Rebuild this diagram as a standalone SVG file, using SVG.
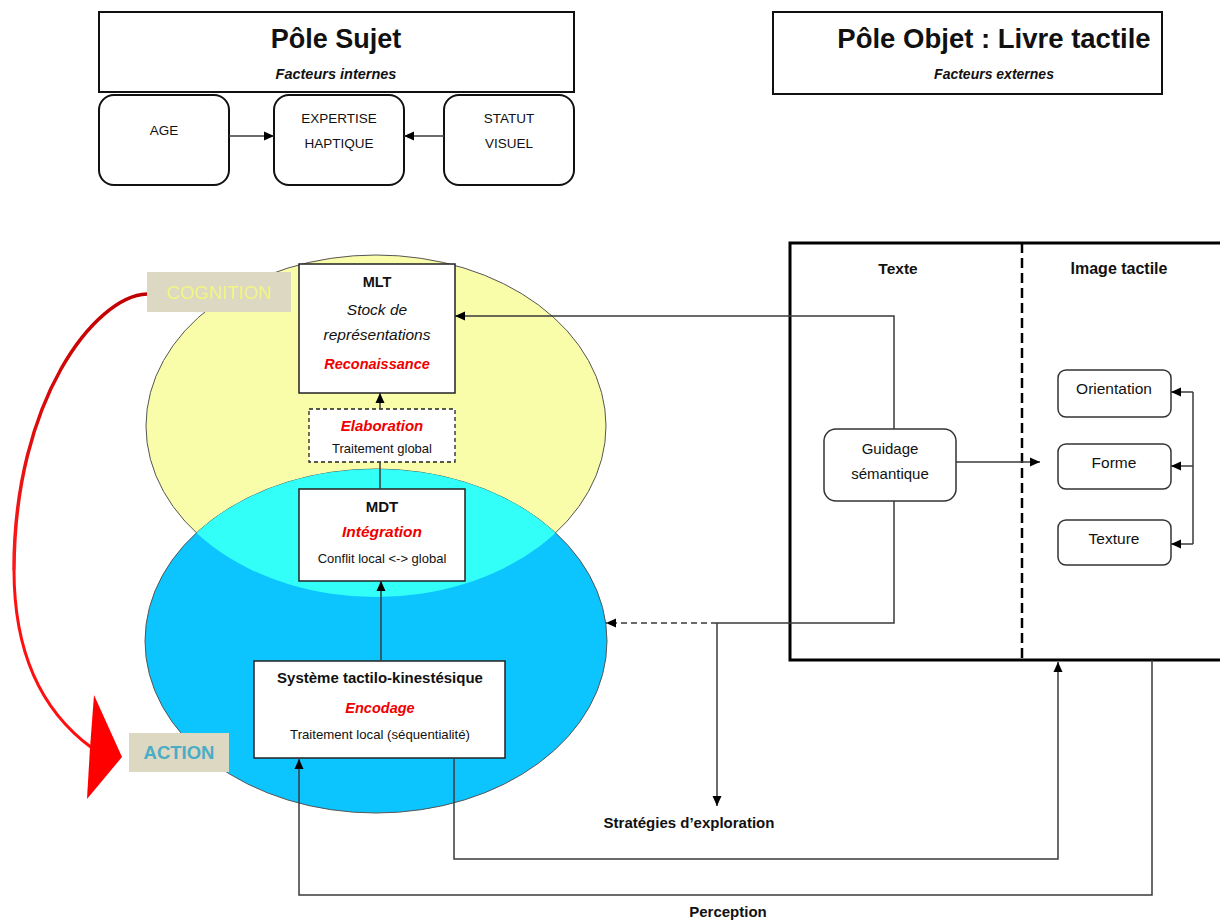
<svg xmlns="http://www.w3.org/2000/svg" width="1220" height="920" viewBox="0 0 1220 920">
<defs>
<style>
text{font-family:"Liberation Sans",Arial,sans-serif;fill:#111;text-anchor:middle}
.b{font-weight:bold}
.i{font-style:italic}
.red{fill:#f00000;font-weight:bold;font-style:italic}
.box{fill:#fff;stroke:#222;stroke-width:1.5}
.hbox{fill:#fff;stroke:#111;stroke-width:2}
.rbox{fill:#fff;stroke:#333;stroke-width:1.5}
.c{fill:none;stroke:#3a3a3a;stroke-width:1.5}
.a{marker-end:url(#ah)}
</style>
<marker id="ah" markerUnits="userSpaceOnUse" markerWidth="10" markerHeight="10" refX="10" refY="5" orient="auto">
<path d="M0,0.5 L10,5 L0,9.5 z" fill="#000"/>
</marker>
<linearGradient id="rg" gradientUnits="userSpaceOnUse" x1="0" y1="294" x2="0" y2="570">
<stop offset="0" stop-color="#c00000"/>
<stop offset="1" stop-color="#ff1a1a"/>
</linearGradient>
<clipPath id="yclip"><ellipse cx="376" cy="426" rx="230" ry="171"/></clipPath>
</defs>

<g id="ellipses">
<ellipse cx="376" cy="426" rx="230" ry="171" fill="#f9fca9" stroke="#555" stroke-width="1"/>
<ellipse cx="376" cy="641" rx="231" ry="172" fill="#0cc5ff" stroke="#555" stroke-width="1"/>
<ellipse cx="376" cy="641" rx="231" ry="172" fill="#31fff8" clip-path="url(#yclip)"/>
</g>

<g id="pole-sujet">
<rect class="hbox" x="99" y="12" width="475" height="80"/>
<text class="b" x="336" y="48" font-size="27">Pôle Sujet</text>
<text class="b i" x="336" y="79" font-size="14.5">Facteurs internes</text>
</g>
<g id="age">
<rect class="hbox" x="99" y="95" width="130" height="90" rx="15"/>
<text x="164" y="135" font-size="13.5">AGE</text>
</g>
<g id="expertise">
<rect class="hbox" x="274" y="95" width="130" height="90" rx="15"/>
<text x="339" y="123" font-size="13.5">EXPERTISE</text>
<text x="339" y="148" font-size="13.5">HAPTIQUE</text>
</g>
<g id="statut">
<rect class="hbox" x="444" y="95" width="130" height="90" rx="15"/>
<text x="509" y="123" font-size="13.5">STATUT</text>
<text x="509" y="148" font-size="13.5">VISUEL</text>
</g>

<g id="pole-objet">
<rect class="hbox" x="773" y="12" width="389" height="82"/>
<text class="b" x="994" y="48" font-size="27.5">Pôle Objet : Livre tactile</text>
<text class="b i" x="994" y="79" font-size="14">Facteurs externes</text>
</g>

<g id="mlt">
<rect class="box" x="299" y="264" width="156" height="129"/>
<text class="b" x="377" y="287" font-size="14.5">MLT</text>
<text class="i" x="377" y="315" font-size="15.5">Stock de</text>
<text class="i" x="377" y="340" font-size="15.5">représentations</text>
<text class="red" x="377" y="369" font-size="14.5">Reconaissance</text>
</g>
<g id="elaboration">
<rect x="309" y="409" width="146" height="53" fill="#fff" stroke="#222" stroke-width="1.3" stroke-dasharray="4,3"/>
<text class="red" x="382" y="431" font-size="15">Elaboration</text>
<text x="382" y="453" font-size="13">Traitement global</text>
</g>
<g id="mdt">
<rect class="box" x="299" y="489" width="166" height="92"/>
<text class="b" x="382" y="512" font-size="15">MDT</text>
<text class="red" x="382" y="537" font-size="15.5">Intégration</text>
<text x="382" y="563" font-size="13">Conflit local &lt;-&gt; global</text>
</g>
<g id="systeme">
<rect class="box" x="254" y="661" width="251" height="97"/>
<text class="b" x="380" y="683" font-size="15">Système tactilo-kinestésique</text>
<text class="red" x="380" y="713" font-size="14.5">Encodage</text>
<text x="380" y="739" font-size="13.2">Traitement local (séquentialité)</text>
</g>

<g id="cognition">
<rect x="147" y="272" width="144" height="40" fill="#dcd8c2"/>
<text x="219" y="299" font-size="18.5" style="fill:#f2f584">COGNITION</text>
</g>
<g id="action">
<rect x="129" y="733" width="100" height="39" fill="#dcd8c2"/>
<text class="b" x="179" y="759" font-size="18.5" style="fill:#4bacc6">ACTION</text>
</g>
<g id="cognition-action-arrow">
<path d="M147,294 C95,296 14,400 14,570" fill="none" stroke="url(#rg)" stroke-width="3.5"/>
<path d="M14,570 C14,650 40,710 92,748" fill="none" stroke="#ff1010" stroke-width="3"/>
<polygon points="94,695 122,757 87,799 90,748" fill="#ff0000"/>
</g>

<g id="livre">
<rect x="790" y="243" width="445" height="417" fill="none" stroke="#000" stroke-width="3"/>
<line x1="1022" y1="243" x2="1022" y2="660" stroke="#000" stroke-width="2.5" stroke-dasharray="10,5"/>
<text class="b" x="898" y="274" font-size="15.5">Texte</text>
<text class="b" x="1119" y="274" font-size="16">Image tactile</text>
</g>
<g id="guidage">
<rect class="rbox" x="824" y="429" width="132" height="72" rx="12"/>
<text x="890" y="454" font-size="15">Guidage</text>
<text x="890" y="479" font-size="15">sémantique</text>
</g>
<g id="orientation">
<rect class="rbox" x="1058" y="370" width="113" height="47" rx="8"/>
<text x="1114" y="394" font-size="15.5">Orientation</text>
</g>
<g id="forme">
<rect class="rbox" x="1058" y="444" width="113" height="45" rx="8"/>
<text x="1114" y="468" font-size="15.5">Forme</text>
</g>
<g id="texture">
<rect class="rbox" x="1058" y="520" width="113" height="45" rx="8"/>
<text x="1114" y="544" font-size="15.5">Texture</text>
</g>

<g id="labels">
<text class="b" x="689" y="828" font-size="15">Stratégies d’exploration</text>
<text class="b" x="728" y="917" font-size="15">Perception</text>
</g>

<g id="connectors">
<path class="c a" d="M229,136 L274,136"/>
<path class="c a" d="M444,136 L404,136"/>
<path class="c a" d="M380,409 L380,393"/>
<path class="c" d="M380,489 L380,462"/>
<path class="c a" d="M381,661 L381,581"/>
<path class="c a" d="M894,429 L894,316 L455,316"/>
<path class="c" d="M894,501 L894,623 L717,623"/>
<path class="c a" d="M717,623 L606,623" stroke-dasharray="6,4"/>
<path class="c a" d="M717,623 L717,806"/>
<path class="c a" d="M956,462 L1040,462"/>
<path class="c" d="M1193,392 L1193,544"/>
<path class="c a" d="M1193,392 L1171,392"/>
<path class="c a" d="M1193,466 L1171,466"/>
<path class="c a" d="M1193,544 L1171,544"/>
<path class="c a" d="M454,758 L454,859 L1058,859 L1058,662"/>
<path class="c a" d="M1152,660 L1152,895 L299,895 L299,759"/>
</g>
</svg>
